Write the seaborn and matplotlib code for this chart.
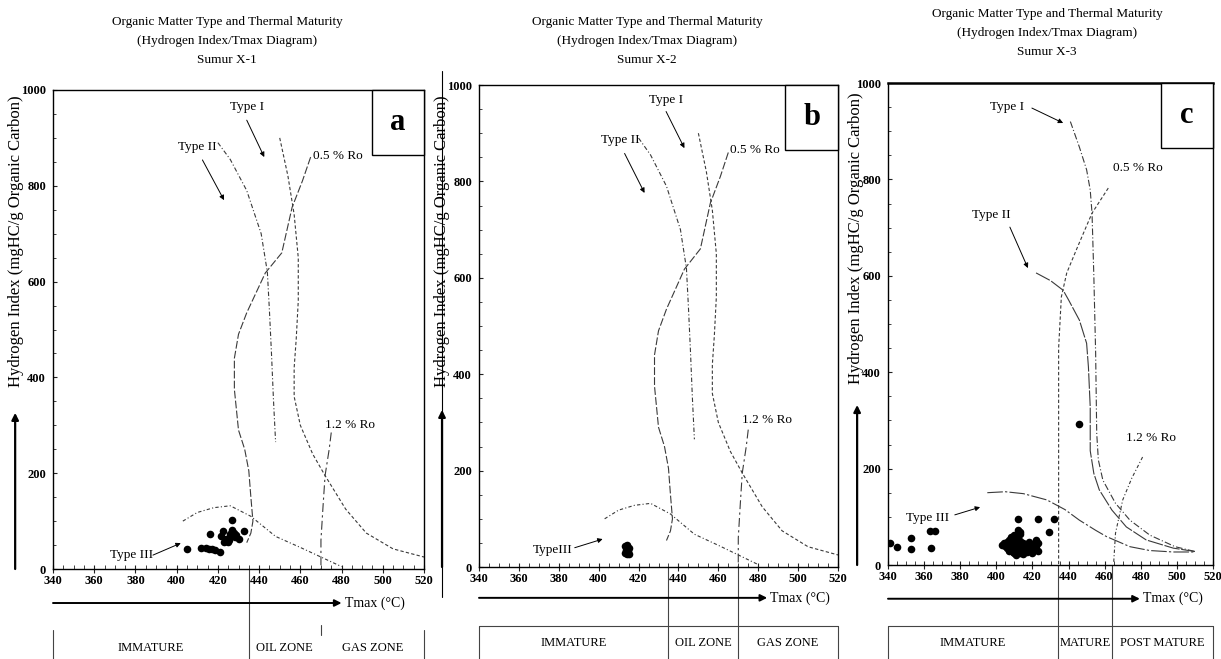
import matplotlib
matplotlib.use("Agg")
import matplotlib.pyplot as plt
from matplotlib.patches import Rectangle
from matplotlib.ticker import MultipleLocator
import seaborn as sns

# ---------------- data ----------------
TMAX_TICKS = [340, 360, 380, 400, 420, 440, 460, 480, 500, 520]
HI_TICKS = [0, 200, 400, 600, 800, 1000]

TITLES = [
    "Organic Matter Type and Thermal Maturity\n(Hydrogen Index/Tmax Diagram)\nSumur X-1",
    "Organic Matter Type and Thermal Maturity\n(Hydrogen Index/Tmax Diagram)\nSumur X-2",
    "Organic Matter Type and Thermal Maturity\n(Hydrogen Index/Tmax Diagram)\nSumur X-3",
]
PANEL_LETTERS = ["a", "b", "c"]
YLABEL = "Hydrogen Index (mgHC/g Organic Carbon)"
XLABEL = "Tmax (°C)"

# template reference curves used in panels a and b
ab_type1_tmax = [450, 454, 457, 459, 459, 458, 457, 457, 460, 466, 472, 482, 492, 505, 520]
ab_type1_hi = [900, 820, 740, 650, 560, 480, 420, 360, 300, 240, 195, 125, 75, 42, 25]
ab_type2_tmax = [420, 426, 434, 441, 444, 445, 446, 447, 448]
ab_type2_hi = [890, 855, 790, 700, 620, 540, 450, 350, 265]
ab_type3_tmax = [403, 410, 418, 426, 436, 448, 460, 470, 480]
ab_type3_hi = [100, 118, 128, 132, 110, 68, 45, 25, 5]
ab_ro05_tmax = [465, 461, 456, 451, 443, 434, 430, 428, 428, 430, 433, 435, 436, 437, 436, 434]
ab_ro05_hi = [860, 810, 755, 660, 618, 535, 490, 440, 375, 290, 250, 205, 150, 100, 75, 55]
ab_ro12_tmax = [475, 474, 472, 471, 470, 470]
ab_ro12_hi = [285, 250, 195, 130, 60, 0]

# reference curves in panel c
c_type1_tmax = [441, 446, 450, 452, 453, 454, 455, 455.6, 456.5, 459, 466, 474, 485, 499, 510]
c_type1_hi = [920, 867, 820, 778, 730, 600, 440, 273, 218, 176, 128, 93, 62, 38, 28]
c_type2_tmax = [422, 430, 437, 440, 446, 450, 451, 452, 452, 454, 457, 464, 472, 483, 498, 510]
c_type2_hi = [606, 590, 570, 550, 508, 460, 411, 328, 237, 190, 156, 114, 79, 52, 35, 28]
c_type3_tmax = [395, 405, 415, 428, 438, 446, 455, 461, 474, 485, 498, 510]
c_type3_hi = [150, 152, 148, 135, 115, 93, 72, 59, 38, 30, 27, 27]
c_ro05_tmax = [462, 453, 445, 439, 436, 434.5, 434.5]
c_ro05_hi = [782, 730, 660, 606, 556, 450, 0]
c_ro12_tmax = [481, 475, 470, 466, 465]
c_ro12_hi = [224, 180, 135, 66, 5]

# samples
a_tmax = [405, 412, 414, 415.5, 417, 418.5, 421, 416, 421.5, 422.5, 424, 425.5, 426, 427,
          427, 428.5, 430, 432.5, 423, 425, 428, 429]
a_hi = [41, 43, 43, 41, 41, 40, 36, 73, 69, 80, 62, 61, 73, 81,
        102, 66, 62, 80, 56, 56, 75, 70]
b_tmax = [413, 414, 415, 413.5, 414.5, 413, 414, 415, 414]
b_hi = [44, 46, 40, 36, 34, 30, 27, 26, 38]
c_tmax = [341, 345, 353, 353, 363, 366, 364, 446,
          412, 423, 432, 429, 412, 413,
          403, 404, 405, 406, 406, 407, 407, 408, 408, 409, 409, 410, 410, 410,
          411, 411, 411, 412, 412, 413, 413, 413, 414, 414, 415, 415, 416, 416,
          417, 418, 418, 419, 420, 420, 421, 422, 422, 423, 423]
c_hi = [45, 38, 55, 33, 70, 70, 36, 292,
        95, 95, 95, 69, 73, 68,
        42, 45, 40, 48, 36, 52, 30, 44, 58, 38, 28, 62, 46, 25,
        34, 55, 20, 42, 30, 50, 24, 65, 38, 28, 45, 22, 33, 40,
        27, 48, 36, 30, 42, 25, 34, 52, 40, 30, 45]

# zones
ab_zone_names = ["IMMATURE", "OIL ZONE", "GAS ZONE"]
ab_zone_bounds = [340, 435, 470, 520]
c_zone_names = ["IMMATURE", "MATURE", "POST MATURE"]
c_zone_bounds = [340, 434, 464, 520]

# ---------------- style / layout ----------------
sns.set_theme(style="white")
plt.rcParams['font.family'] = ['Liberation Serif', 'DejaVu Serif']

W, H = 1221, 659
fig = plt.figure(figsize=(W / 100, H / 100), dpi=100)
fig.patch.set_facecolor("white")

INK = "#222222"
CURVE = "#3a3a3a"


def add_ax(l, t, r, b):
    return fig.add_axes([l / W, 1 - b / H, (r - l) / W, (b - t) / H])


panels = [
    dict(box=(53, 90, 424, 569), title_xy=(227, 16),
         curves=[(ab_type2_tmax, ab_type2_hi, (4, 2, 1, 2)),
                 (ab_type1_tmax, ab_type1_hi, (3, 2)),
                 (ab_ro05_tmax, ab_ro05_hi, (7, 2)),
                 (ab_ro12_tmax, ab_ro12_hi, (8, 3, 2, 3)),
                 (ab_type3_tmax, ab_type3_hi, (3, 2, 1, 2))],
         pts=(a_tmax, a_hi),
         labels=[("Type I", (434, 964), "center", (434, 937), (442.5, 860)),
                 ("Type II", (410, 881), "center", (412.5, 854), (423, 770)),
                 ("0.5 % Ro", (466, 862), "left", None, None),
                 ("1.2 % Ro", (472, 300), "left", None, None),
                 ("Type III", (378, 29), "center", (388.5, 29), (402, 54))],
         yarrow_x=-0.102, ylab_x=-0.078, ylab_y=0.685, yarrow_top=0.326,
         xarrow_y=-0.071, xarrow_end=480,
         zones=(ab_zone_names, ab_zone_bounds), zone_top=-0.127, zone_bot=-0.19,
         zone_topline=False, zone_lab_y=-0.165, letter_x0=0.86, letter_y0=0.864),
    dict(box=(479, 85, 838, 567), title_xy=(647, 16),
         curves=[(ab_type2_tmax, ab_type2_hi, (4, 2, 1, 2)),
                 (ab_type1_tmax, ab_type1_hi, (3, 2)),
                 (ab_ro05_tmax, ab_ro05_hi, (7, 2)),
                 (ab_ro12_tmax, ab_ro12_hi, (8, 3, 2, 3)),
                 (ab_type3_tmax, ab_type3_hi, (3, 2, 1, 2))],
         pts=(b_tmax, b_hi),
         labels=[("Type I", (434, 969), "center", (433.8, 945), (443, 869)),
                 ("Type II", (411, 886), "center", (413, 858), (423, 776)),
                 ("0.5 % Ro", (466, 865), "left", None, None),
                 ("1.2 % Ro", (472, 305), "left", None, None),
                 ("TypeIII", (377, 35), "center", (388, 40), (402, 58))],
         yarrow_x=-0.103, ylab_x=-0.081, ylab_y=0.675, yarrow_top=0.326,
         xarrow_y=-0.064, xarrow_end=484.5,
         zones=(ab_zone_names, ab_zone_bounds), zone_top=-0.122, zone_bot=-0.191,
         zone_topline=True, zone_lab_y=-0.158, letter_x0=0.853, letter_y0=0.865),
    dict(box=(888, 83, 1213, 565), title_xy=(1047, 8),
         curves=[(c_type1_tmax, c_type1_hi, (6, 2, 1, 2)),
                 (c_type2_tmax, c_type2_hi, (14, 1.5)),
                 (c_ro05_tmax, c_ro05_hi, (3, 2)),
                 (c_ro12_tmax, c_ro12_hi, (3, 2, 1, 2)),
                 (c_type3_tmax, c_type3_hi, (14, 2, 2, 2))],
         pts=(c_tmax, c_hi),
         labels=[("Type I", (406, 950), "center", (419.7, 948), (437, 917)),
                 ("Type II", (397, 726), "center", (407.5, 701), (417.5, 616)),
                 ("0.5 % Ro", (464.6, 824), "left", None, None),
                 ("1.2 % Ro", (472, 263), "left", None, None),
                 ("Type III", (362, 97), "center", (377, 104), (391, 120))],
         yarrow_x=-0.095, ylab_x=-0.074, ylab_y=0.678, yarrow_top=0.332,
         xarrow_y=-0.07, xarrow_end=479.5,
         zones=(c_zone_names, c_zone_bounds), zone_top=-0.127, zone_bot=-0.195,
         zone_topline=True, zone_lab_y=-0.162, letter_x0=0.84, letter_y0=0.865),
]

for i, p in enumerate(panels):
    ax = add_ax(*p["box"])
    ax.set_facecolor("white")

    for tx, hy, dash in p["curves"]:
        sns.lineplot(x=tx, y=hy, sort=False, estimator=None, ax=ax,
                     color=CURVE, linewidth=0.8)
        ax.lines[-1].set_dashes(dash)

    sns.scatterplot(x=p["pts"][0], y=p["pts"][1], ax=ax, color="black",
                    s=30, linewidth=0, zorder=4)

    ax.set_xlim(340, 520)
    ax.set_ylim(0, 1000)
    ax.set_xticks(TMAX_TICKS)
    ax.set_yticks(HI_TICKS)
    ax.set_xticklabels([str(t) for t in TMAX_TICKS], fontweight="bold")
    ax.set_yticklabels([str(t) for t in HI_TICKS], fontweight="bold")
    ax.xaxis.set_minor_locator(MultipleLocator(5))
    ax.yaxis.set_minor_locator(MultipleLocator(50))
    ax.tick_params(bottom=True, left=True, which="both", colors=INK)
    ax.tick_params(axis="x", which="major", direction="inout", length=6,
                   width=0.8, labelsize=9, pad=1, labelcolor="black")
    ax.tick_params(axis="x", which="minor", direction="in", length=3, width=0.6)
    ax.tick_params(axis="y", which="major", direction="in", length=3,
                   width=0.8, labelsize=9, pad=5, labelcolor="black")
    ax.tick_params(axis="y", which="minor", direction="in", length=2, width=0.6)
    for sp in ax.spines.values():
        sp.set_visible(True)
        sp.set_color("black")
        sp.set_linewidth(1.0)
    if i == 2:
        ax.spines["top"].set_linewidth(1.8)

    ax.set_xlabel("")
    ax.set_ylabel(YLABEL, fontsize=12, color="black")
    ax.yaxis.set_label_coords(p["ylab_x"], p["ylab_y"])

    # title
    tx, ty = p["title_xy"]
    fig.text(tx / W, 1 - ty / H, TITLES[i], ha="center", va="top",
             fontsize=9.5, linespacing=1.8, color="black")

    # curve labels and arrows
    for text, (lx, ly), ha, a0, a1 in p["labels"]:
        ax.text(lx, ly, text, ha=ha, va="center", fontsize=9.5, color="black")
        if a0 is not None:
            ax.annotate("", xy=a1, xytext=a0,
                        arrowprops=dict(arrowstyle="-|>", lw=0.7, color="black",
                                        mutation_scale=7, shrinkA=0, shrinkB=0))

    # axis direction arrows
    ax.annotate("", xy=(p["yarrow_x"], p["yarrow_top"]), xytext=(p["yarrow_x"], 0.0),
                xycoords="axes fraction",
                arrowprops=dict(arrowstyle="-|>", lw=1.6, color="black",
                                mutation_scale=10, shrinkA=0, shrinkB=0),
                annotation_clip=False)
    xt = ax.get_xaxis_transform()
    ax.annotate("", xy=(p["xarrow_end"], p["xarrow_y"]), xytext=(340, p["xarrow_y"]),
                xycoords=xt,
                arrowprops=dict(arrowstyle="-|>", lw=1.4, color="black",
                                mutation_scale=10, shrinkA=0, shrinkB=0),
                annotation_clip=False)
    ax.text(p["xarrow_end"] + 1.5, p["xarrow_y"], XLABEL, transform=xt,
            ha="left", va="center", fontsize=10, color="black")

    # maturity zones
    names, bounds = p["zones"]
    zt, zb = p["zone_top"], p["zone_bot"]
    lk = dict(transform=xt, clip_on=False, color="#444444", lw=0.8)
    ax.plot([bounds[0], bounds[0]], [zt, zb], **lk)
    ax.plot([bounds[-1], bounds[-1]], [zt, zb], **lk)
    if p["zone_topline"]:
        ax.plot([bounds[0], bounds[-1]], [zt, zt], **lk)
        for bnd in bounds[1:-1]:
            ax.plot([bnd, bnd], [0, zb], **lk)
    else:
        ax.plot([bounds[1], bounds[1]], [0, zb], **lk)
        ax.plot([bounds[2], bounds[2]], [zt + 0.01, zt - 0.01], **lk)
    for nm, lo, hi in zip(names, bounds[:-1], bounds[1:]):
        ax.text((lo + hi) / 2, p["zone_lab_y"], nm, transform=xt, ha="center",
                va="center", fontsize=9, color="black")

    # panel letter box
    x0, y0 = p["letter_x0"], p["letter_y0"]
    ax.add_patch(Rectangle((x0, y0), 1 - x0, 1 - y0, transform=ax.transAxes,
                           facecolor="white", edgecolor="black", lw=1.0,
                           zorder=6, clip_on=False))
    ax.text((x0 + 1) / 2, (y0 + 1) / 2, PANEL_LETTERS[i], transform=ax.transAxes,
            ha="center", va="center", fontsize=22, fontweight="bold",
            color="black", zorder=7)

    if i == 1:
        ax.plot([p["yarrow_x"], p["yarrow_x"]], [1.03, -0.062], transform=ax.transAxes,
                clip_on=False, color="black", lw=0.8)

fig.savefig("out.png", dpi=100, facecolor="white")
